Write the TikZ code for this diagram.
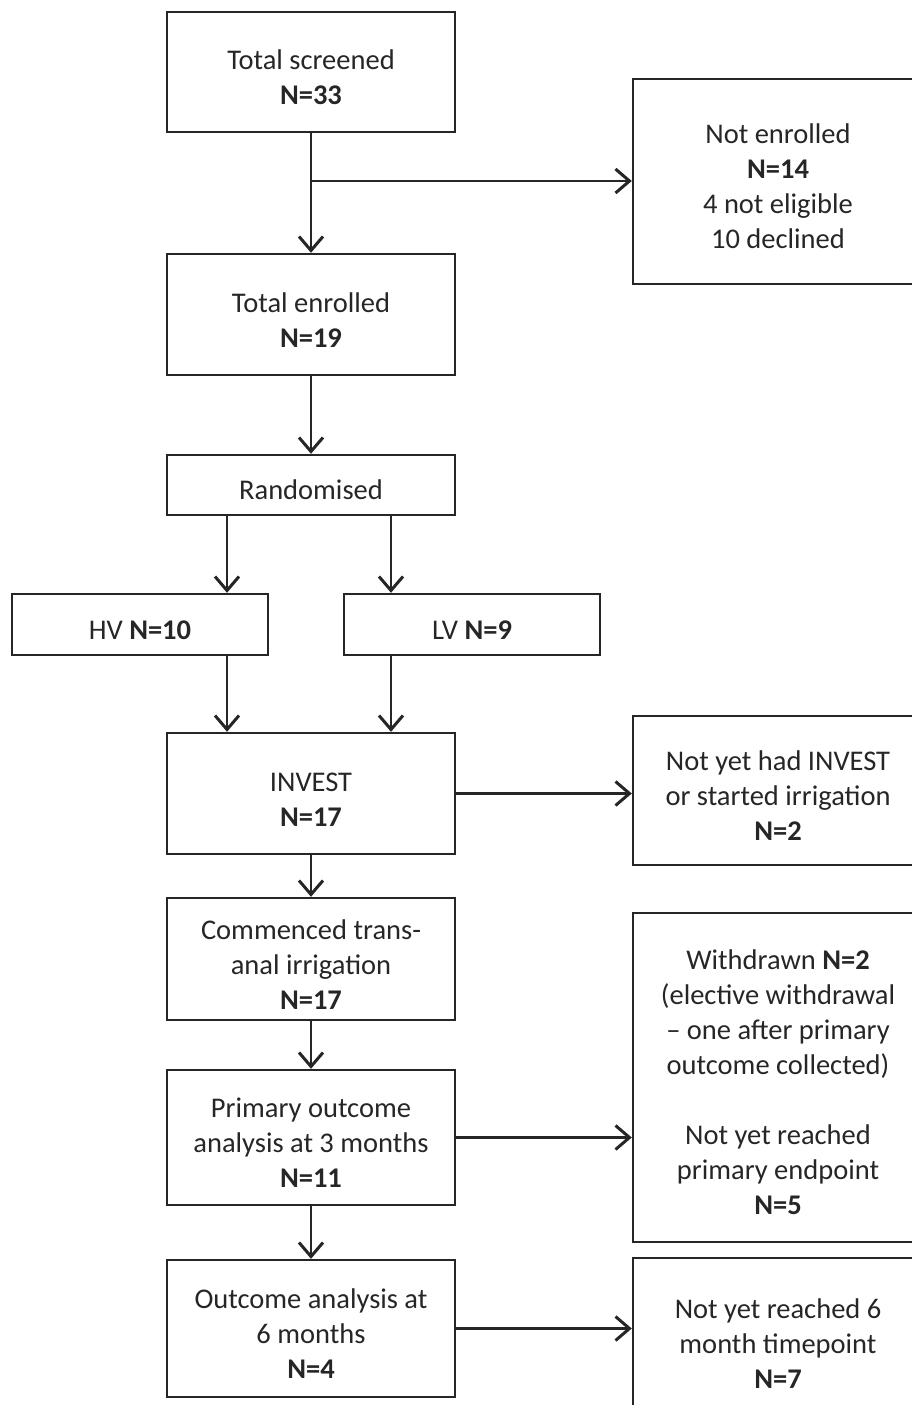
\documentclass[tikz,border=0pt]{standalone}
\usepackage{fontspec}
\setmainfont{Carlito}
\usetikzlibrary{arrows.meta}
% strut that lowers the first line of each box a little
\newcommand\topstrut{\rule{0pt}{30pt}}
\begin{document}
\begin{tikzpicture}[x=1pt,y=-1pt,
  box/.style={draw=black!85, line width=2.4pt, align=center, inner sep=0pt,
    text=black!85, font=\fontsize{28.5}{35}\selectfont},
  mainbox/.style={box, minimum width=288pt},
  sidebox/.style={box, minimum width=290pt},
  arr/.style={draw=black!85, line width=2.2pt,
    -{Straight Barb[length=14pt,width=24pt,line width=3pt]}}
]
\useasboundingbox (0,0) rectangle (912,1405);

% main column
\node[mainbox, minimum height=120pt] (ts) at (311,72) {\topstrut Total screened\\\textbf{N=33}};
\node[mainbox, minimum height=121pt] (te) at (311,314.5) {\topstrut Total enrolled\\\textbf{N=19}};
\node[mainbox, minimum height=60pt] (rand) at (311,485) {\topstrut Randomised};
\node[box, minimum width=256pt, minimum height=61pt] (hv) at (140,624.5) {\topstrut HV \textbf{N=10}};
\node[box, minimum width=256pt, minimum height=61pt] (lv) at (472,624.5) {\topstrut LV \textbf{N=9}};
\node[mainbox, minimum height=121pt] (inv) at (311,793.5) {\topstrut INVEST\\\textbf{N=17}};
\node[mainbox, minimum height=122pt] (com) at (311,959) {\topstrut Commenced trans-\\anal irrigation\\\textbf{N=17}};
\node[mainbox, minimum height=135pt] (pri) at (311,1137.5) {\topstrut Primary outcome\\analysis at 3 months\\\textbf{N=11}};
\node[mainbox, minimum height=137pt] (o6) at (311,1328.5) {\topstrut Outcome analysis at\\6 months\\\textbf{N=4}};

% side column
\node[sidebox, minimum height=205pt] (ne) at (778,181.5) {\topstrut Not enrolled\\\textbf{N=14}\\4 not eligible\\10 declined};
\node[sidebox, minimum height=149pt] (ny) at (778,790.5) {\topstrut Not yet had INVEST\\or started irrigation\\\textbf{N=2}};
\node[sidebox, minimum height=329pt] (wd) at (778,1077.5) {\topstrut Withdrawn \textbf{N=2}\\(elective withdrawal\\– one after primary\\outcome collected)\\[35pt]Not yet reached\\primary endpoint\\\textbf{N=5}};
\node[sidebox, minimum height=160pt] (ny6) at (778,1338) {\topstrut Not yet reached 6\\month timepoint\\\textbf{N=7}};

% branch points
\coordinate (br) at (311,181);
\coordinate (lx) at (227,0);
\coordinate (rx) at (391,0);

% connectors
\draw[arr] (ts.south) -- (te.north);
\draw[arr] (br) -- (br -| ne.west);
\draw[arr] (te.south) -- (rand.north);
\draw[arr] (rand.south -| lx) -- (hv.north -| lx);
\draw[arr] (rand.south -| rx) -- (lv.north -| rx);
\draw[arr] (hv.south -| lx) -- (inv.north -| lx);
\draw[arr] (lv.south -| rx) -- (inv.north -| rx);
\draw[arr] (inv.east) -- (inv.east -| ny.west);
\draw[arr] (inv.south) -- (com.north);
\draw[arr] (com.south) -- (pri.north);
\draw[arr] (pri.east) -- (pri.east -| wd.west);
\draw[arr] (pri.south) -- (o6.north);
\draw[arr] (o6.east) -- (o6.east -| ny6.west);
\end{tikzpicture}
\end{document}
